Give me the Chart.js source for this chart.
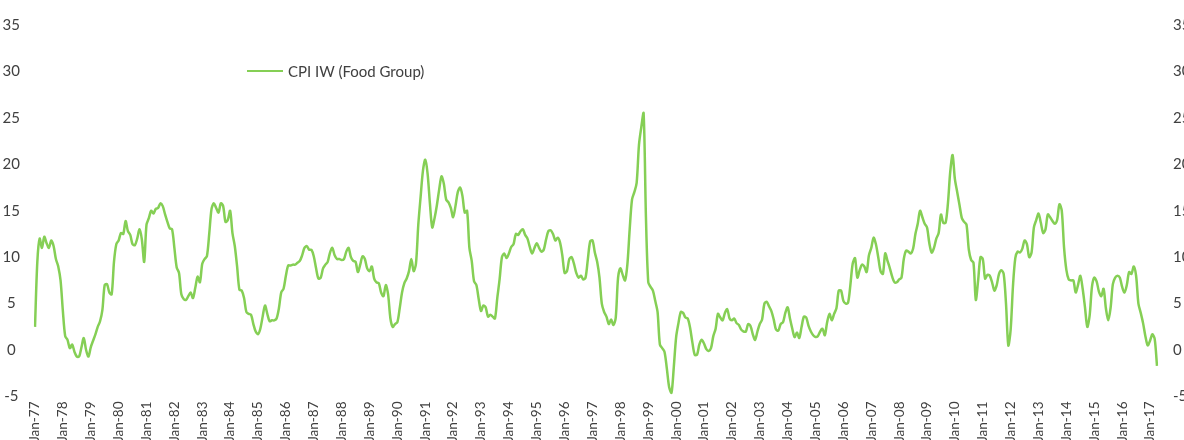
<!DOCTYPE html>
<html><head><meta charset="utf-8">
<script src="https://cdn.jsdelivr.net/npm/chart.js@4.4.1/dist/chart.umd.min.js"></script>
<style>
html,body{margin:0;padding:0;background:#fff;overflow:hidden;width:1184px;height:440px;}
#wrap{position:relative;width:1200px;height:440px;}
#legend{position:absolute;left:247px;top:62px;font:15px Lato,sans-serif;color:#404040;display:flex;align-items:center;white-space:nowrap;line-height:18px;}
#legend .sw{display:inline-block;width:36px;height:2.5px;background:#85CF55;margin-right:5px;}
</style></head><body>
<div id="wrap"><canvas id="c" width="1200" height="440"></canvas>
<div id="legend"><span class="sw"></span><span id="legtext"></span></div></div>
<script>
const seriesName = 'CPI IW (Food Group)';
const monthNames = ['Jan','Feb','Mar','Apr','May','Jun','Jul','Aug','Sep','Oct','Nov','Dec'];
const startYear = 1977;
const yMin = -5, yMax = 35, yStep = 5;

const v1977_1986 = [
 2.5, 9.5, 12.0, 11.0, 12.2, 11.5, 11.0, 11.8, 11.2, 9.8, 9.0, 7.5,
 4.2, 1.5, 1.1, 0.2, 0.6, -0.2, -0.7, -0.7, 0.3, 1.3, 0.0, -0.7,
 0.3, 1.0, 1.7, 2.5, 3.1, 4.3, 7.0, 7.1, 6.2, 6.0, 9.5, 11.4,
 11.8, 12.6, 12.5, 13.9, 12.8, 12.4, 11.4, 11.3, 12.0, 13.0, 11.9, 9.5,
 13.5, 14.2, 15.0, 14.7, 15.2, 15.3, 15.8, 15.5, 14.6, 13.8, 13.1, 13.0,
 11.0, 8.9, 8.3, 6.0, 5.5, 5.4, 5.8, 6.2, 5.6, 6.7, 7.9, 7.3,
 9.3, 9.8, 10.1, 12.5, 15.2, 15.8, 15.3, 14.8, 15.8, 15.5, 13.8, 14.0,
 15.0, 12.6, 11.2, 9.0, 6.5, 6.4, 5.6, 4.1, 3.9, 3.8, 2.8, 2.0,
 1.7, 2.3, 3.6, 4.8, 3.9, 3.1, 3.2, 3.2, 3.4, 4.5, 6.2, 6.6,
 8.0, 9.1, 9.1, 9.2, 9.2, 9.4, 9.6, 10.2, 11.0, 11.2, 10.8, 10.8
];
const v1987_1996 = [
 10.1, 8.8, 7.7, 7.8, 8.8, 9.2, 9.5, 10.5, 11.0, 10.2, 9.8, 9.8,
 9.7, 9.8, 10.6, 11.0, 10.0, 9.6, 9.5, 8.4, 9.2, 10.1, 9.8, 8.8,
 8.5, 9.0, 7.7, 7.3, 7.2, 6.2, 5.8, 7.0, 6.0, 3.4, 2.5, 2.8,
 3.0, 4.5, 6.2, 7.2, 7.7, 8.5, 9.8, 8.5, 9.3, 13.5, 16.5, 19.3,
 20.5, 19.0, 15.8, 13.2, 14.2, 15.6, 17.3, 18.7, 17.9, 16.2, 15.9, 15.3,
 14.3, 15.5, 17.0, 17.5, 16.6, 14.8, 15.0, 11.0, 9.6, 7.4, 7.0, 5.5,
 4.2, 4.8, 4.6, 3.6, 3.8, 3.6, 3.4, 5.6, 7.6, 10.0, 10.4, 9.9,
 10.4, 11.1, 11.4, 12.5, 12.4, 12.8, 13.0, 12.4, 12.0, 11.1, 10.4, 11.0,
 11.5, 11.0, 10.6, 10.8, 11.9, 12.8, 12.9, 12.5, 11.8, 12.1, 11.6, 10.2,
 8.3, 8.5, 9.8, 10.0, 9.3, 8.3, 7.8, 8.0, 7.6, 7.8, 9.8, 11.7
];
const v1997_2006 = [
 11.8, 10.5, 9.5, 7.8, 5.0, 4.1, 3.6, 2.8, 3.3, 2.7, 3.5, 7.8,
 8.8, 8.1, 7.5, 9.2, 13.0, 16.2, 17.0, 18.0, 22.1, 24.0, 25.5, 14.3,
 7.3, 6.8, 6.4, 5.3, 4.1, 0.6, 0.2, -0.2, -2.0, -4.0, -4.6, -1.8,
 1.4, 2.9, 4.1, 4.0, 3.5, 3.4, 2.4, 0.8, -0.5, -0.5, 0.6, 1.1,
 0.7, 0.1, -0.1, 0.2, 1.5, 2.3, 3.9, 3.5, 3.2, 4.0, 4.4, 3.4,
 3.2, 3.4, 2.9, 2.7, 2.2, 2.0, 2.0, 2.8, 2.6, 1.7, 1.1, 2.0,
 2.8, 3.3, 5.0, 5.2, 4.7, 4.2, 3.3, 2.2, 2.1, 2.8, 3.0, 4.0,
 4.6, 3.4, 2.3, 1.4, 1.9, 1.3, 2.5, 3.6, 3.5, 2.6, 2.0, 1.6,
 1.4, 1.5, 2.0, 2.3, 1.6, 3.0, 3.9, 3.2, 3.9, 4.5, 6.4, 6.4,
 5.3, 5.0, 5.1, 7.0, 9.3, 9.9, 7.8, 8.6, 9.2, 9.0, 8.4, 10.2
];
const v2007_2017 = [
 11.0, 12.1, 11.4, 10.0, 8.5, 8.2, 10.4, 9.6, 8.8, 7.9, 7.3, 7.3,
 7.6, 7.8, 9.8, 10.7, 10.6, 10.4, 10.9, 12.5, 13.6, 15.0, 14.3, 13.6,
 13.2, 11.5, 10.5, 11.0, 12.0, 12.6, 14.6, 13.7, 13.7, 15.8, 19.2, 21.0,
 18.4, 17.0, 15.6, 14.2, 13.8, 13.5, 10.8, 9.7, 9.4, 5.4, 7.5, 10.0,
 9.8, 7.7, 8.1, 8.0, 7.3, 6.4, 7.0, 8.2, 8.6, 8.2, 5.0, 0.5,
 2.2, 6.9, 9.9, 10.6, 10.5, 10.9, 11.8, 11.4, 10.0, 10.5, 13.2, 14.0,
 14.7, 13.7, 12.6, 13.0, 14.6, 14.3, 13.9, 13.6, 14.0, 15.7, 15.0, 11.0,
 8.6, 7.6, 7.5, 7.5, 6.2, 7.0, 8.0, 6.6, 4.6, 2.5, 3.7, 6.8,
 7.8, 7.4, 6.3, 5.8, 6.6, 4.5, 3.2, 4.5, 7.1, 7.8, 8.0, 7.8,
 6.8, 6.2, 7.0, 8.4, 8.2, 9.0, 8.0, 5.0, 4.0, 2.9, 1.5, 0.5,
 1.0, 1.7, 1.2, -1.7
];

const values = [].concat(v1977_1986, v1987_1996, v1997_2006, v2007_2017);
const labels = values.map((_, i) => monthNames[i % 12] + '-' +
  String((startYear + Math.floor(i / 12)) % 100).padStart(2, '0'));

const lineColor = '#85CF55';
const tickFont = {family: 'Lato', size: 15};
const xTickFont = {family: 'Lato', size: 13.5};
const tickColor = '#404040';

document.getElementById('legtext').textContent = seriesName;

new Chart(document.getElementById('c').getContext('2d'), {
  type: 'line',
  data: {labels: labels, datasets: [{
    label: seriesName, data: values, borderColor: lineColor, backgroundColor: lineColor,
    borderWidth: 2.5, pointRadius: 0, tension: 0.3, fill: false
  }]},
  options: {
    responsive: false, animation: false, devicePixelRatio: 1,
    layout: {padding: {top: 11, left: 0, right: 0, bottom: 0}},
    plugins: {legend: {display: false}, tooltip: {enabled: false}},
    scales: {
      x: {
        type: 'category', offset: false,
        grid: {display: false, drawTicks: false}, border: {display: false},
        ticks: {autoSkip: false, maxRotation: 90, minRotation: 90, padding: 5,
          font: xTickFont, color: tickColor,
          callback: function (v) { const l = this.getLabelForValue(v); return l.startsWith('Jan') ? l : ''; }},
        afterFit: s => { s.height = 43.5; }
      },
      y: {
        position: 'left', min: yMin, max: yMax,
        grid: {display: false, drawTicks: false}, border: {display: false},
        ticks: {stepSize: yStep, padding: 15, crossAlign: 'center', font: tickFont, color: tickColor},
        afterFit: s => { s.width = 35; }
      },
      y2: {
        position: 'right', min: yMin, max: yMax,
        grid: {display: false, drawTicks: false}, border: {display: false},
        ticks: {stepSize: yStep, padding: 16, font: tickFont, color: tickColor},
        afterFit: s => { s.width = 43; }
      }
    }
  }
});
</script>
</body></html>
